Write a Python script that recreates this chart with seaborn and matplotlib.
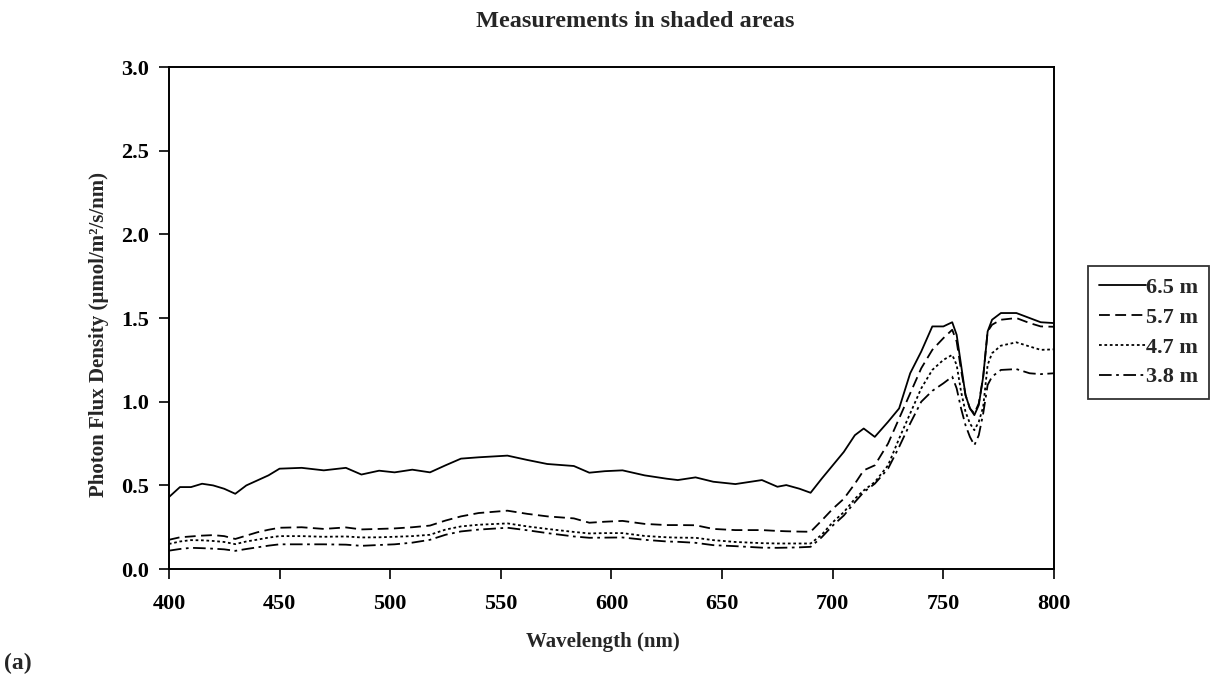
import matplotlib
matplotlib.use("Agg")
import matplotlib.pyplot as plt
import seaborn as sns
import pandas as pd

# Wavelength grid (nm) shared by the four depth series
wavelength = [400, 405, 410, 415, 420, 425, 430, 435, 440, 445, 450, 460, 470, 480, 487,
              495, 502, 510, 518, 525, 532, 540, 553, 562, 571, 583, 590, 597, 605, 615,
              625, 630, 638, 646, 656, 668, 675, 679, 685, 690, 695, 700, 705, 710, 714,
              719, 725, 730, 735, 740, 745, 750, 754, 756, 758, 760, 762, 764, 766, 768,
              770, 772, 776, 783, 789, 794, 800]

pfd_6_5 = [0.43, 0.49, 0.49, 0.51, 0.50, 0.48, 0.45, 0.50, 0.53, 0.56, 0.60, 0.605, 0.59, 0.605, 0.565,
           0.588, 0.578, 0.594, 0.578, 0.62, 0.66, 0.668, 0.678, 0.652, 0.628, 0.616, 0.576, 0.585, 0.59, 0.56,
           0.54, 0.532, 0.548, 0.522, 0.508, 0.532, 0.492, 0.502, 0.48, 0.456, 0.54, 0.62, 0.70, 0.80, 0.84,
           0.79, 0.88, 0.96, 1.17, 1.30, 1.45, 1.45, 1.475, 1.40, 1.22, 1.04, 0.96, 0.92, 0.98, 1.15,
           1.42, 1.49, 1.53, 1.53, 1.50, 1.475, 1.47]

pfd_5_7 = [0.175, 0.19, 0.195, 0.20, 0.203, 0.197, 0.18, 0.20, 0.22, 0.235, 0.247, 0.25, 0.24, 0.249, 0.237,
           0.24, 0.243, 0.25, 0.26, 0.29, 0.315, 0.335, 0.349, 0.33, 0.315, 0.303, 0.277, 0.283, 0.288, 0.27,
           0.263, 0.263, 0.262, 0.24, 0.233, 0.233, 0.228, 0.226, 0.224, 0.223, 0.29, 0.36, 0.42, 0.51, 0.59,
           0.62, 0.75, 0.90, 1.05, 1.20, 1.31, 1.38, 1.43, 1.36, 1.19, 1.04, 0.96, 0.93, 0.99, 1.15,
           1.42, 1.46, 1.49, 1.50, 1.47, 1.45, 1.448]

pfd_4_7 = [0.15, 0.165, 0.173, 0.172, 0.168, 0.162, 0.149, 0.165, 0.176, 0.188, 0.197, 0.197, 0.193, 0.195, 0.189,
           0.19, 0.193, 0.197, 0.205, 0.236, 0.255, 0.265, 0.273, 0.255, 0.24, 0.222, 0.213, 0.215, 0.215, 0.198,
           0.19, 0.188, 0.187, 0.173, 0.162, 0.155, 0.153, 0.153, 0.153, 0.153, 0.205, 0.28, 0.34, 0.42, 0.47,
           0.52, 0.62, 0.78, 0.93, 1.08, 1.19, 1.25, 1.28, 1.22, 1.06, 0.94, 0.87, 0.83, 0.88, 0.97,
           1.22, 1.29, 1.335, 1.355, 1.33, 1.31, 1.313]

pfd_3_8 = [0.11, 0.12, 0.127, 0.125, 0.122, 0.118, 0.109, 0.12, 0.13, 0.14, 0.148, 0.148, 0.148, 0.146, 0.139,
           0.144, 0.148, 0.158, 0.175, 0.205, 0.225, 0.236, 0.247, 0.232, 0.215, 0.195, 0.187, 0.188, 0.189, 0.175,
           0.165, 0.163, 0.157, 0.143, 0.137, 0.128, 0.127, 0.128, 0.13, 0.133, 0.19, 0.26, 0.32, 0.40, 0.46,
           0.51, 0.60, 0.73, 0.87, 1.00, 1.065, 1.11, 1.15, 1.08, 0.96, 0.86, 0.79, 0.74, 0.80, 0.93,
           1.10, 1.15, 1.19, 1.195, 1.17, 1.165, 1.17]

depths = ["6.5 m", "5.7 m", "4.7 m", "3.8 m"]
series = [pfd_6_5, pfd_5_7, pfd_4_7, pfd_3_8]
dash_styles = [(None, None), (6, 3), (1.5, 1.5), (7, 2.5, 1.5, 2.5)]

x_ticks = [400, 450, 500, 550, 600, 650, 700, 750, 800]
y_ticks = [0.0, 0.5, 1.0, 1.5, 2.0, 2.5, 3.0]


def build_frame():
    frames = []
    for depth, vals in zip(depths, series):
        frames.append(pd.DataFrame({"Wavelength": wavelength, "PFD": vals, "Depth": depth}))
    return pd.concat(frames, ignore_index=True)


def main():
    sns.set_style("ticks")
    plt.rcParams["font.family"] = ["Liberation Serif", "DejaVu Serif"]
    plt.rcParams["font.weight"] = "bold"
    fs = 16

    df = build_frame()
    fig = plt.figure(figsize=(12.15, 6.84), dpi=100)
    ax = fig.add_axes([0.139, 0.168, 0.7285, 0.734])

    sns.lineplot(data=df, x="Wavelength", y="PFD", hue="Depth", style="Depth",
                 palette=["black"] * 4, dashes=dash_styles, linewidth=1.3,
                 ax=ax, legend=False)

    ax.set_xlim(400, 800)
    ax.set_ylim(0, 3.0)
    ax.set_xticks(x_ticks)
    ax.set_yticks(y_ticks)
    ax.set_xticklabels([str(t) for t in x_ticks], fontsize=fs, fontweight="bold")
    ax.set_yticklabels([f"{t:.1f}" for t in y_ticks], fontsize=fs, fontweight="bold")
    ax.tick_params(length=7, width=1.2, colors="black")
    ax.tick_params(axis="x", pad=11)
    ax.tick_params(axis="y", pad=7)
    for sp in ax.spines.values():
        sp.set_visible(True)
        sp.set_color("black")
        sp.set_linewidth(1.4)

    ax.set_xlabel("Wavelength (nm)", fontsize=15, fontweight="bold")
    ax.xaxis.set_label_coords(0.49, -0.125)
    ax.set_ylabel("Photon Flux Density (µmol/m²/s/nm)", fontsize=15, fontweight="bold")
    ax.yaxis.set_label_coords(-0.068, 0.467)
    fig.text(0.523, 0.969, "Measurements in shaded areas", ha="center", va="center",
             fontsize=17.5, fontweight="bold")
    fig.text(0.003, 0.03, "(a)", ha="left", va="center", fontsize=17, fontweight="bold")

    handles = ax.get_lines()[:4]
    leg = fig.legend(handles, depths, loc="upper left", bbox_to_anchor=(0.8955, 0.611),
                     frameon=True, fancybox=False, edgecolor="black", fontsize=fs,
                     handlelength=2.1, handletextpad=0.0, labelspacing=0.42,
                     borderpad=0.5, borderaxespad=0)
    leg.get_frame().set_linewidth(1.3)
    for t in leg.get_texts():
        t.set_fontweight("bold")

    fig.savefig("out.png", dpi=100, facecolor="white")


if __name__ == "__main__":
    main()
